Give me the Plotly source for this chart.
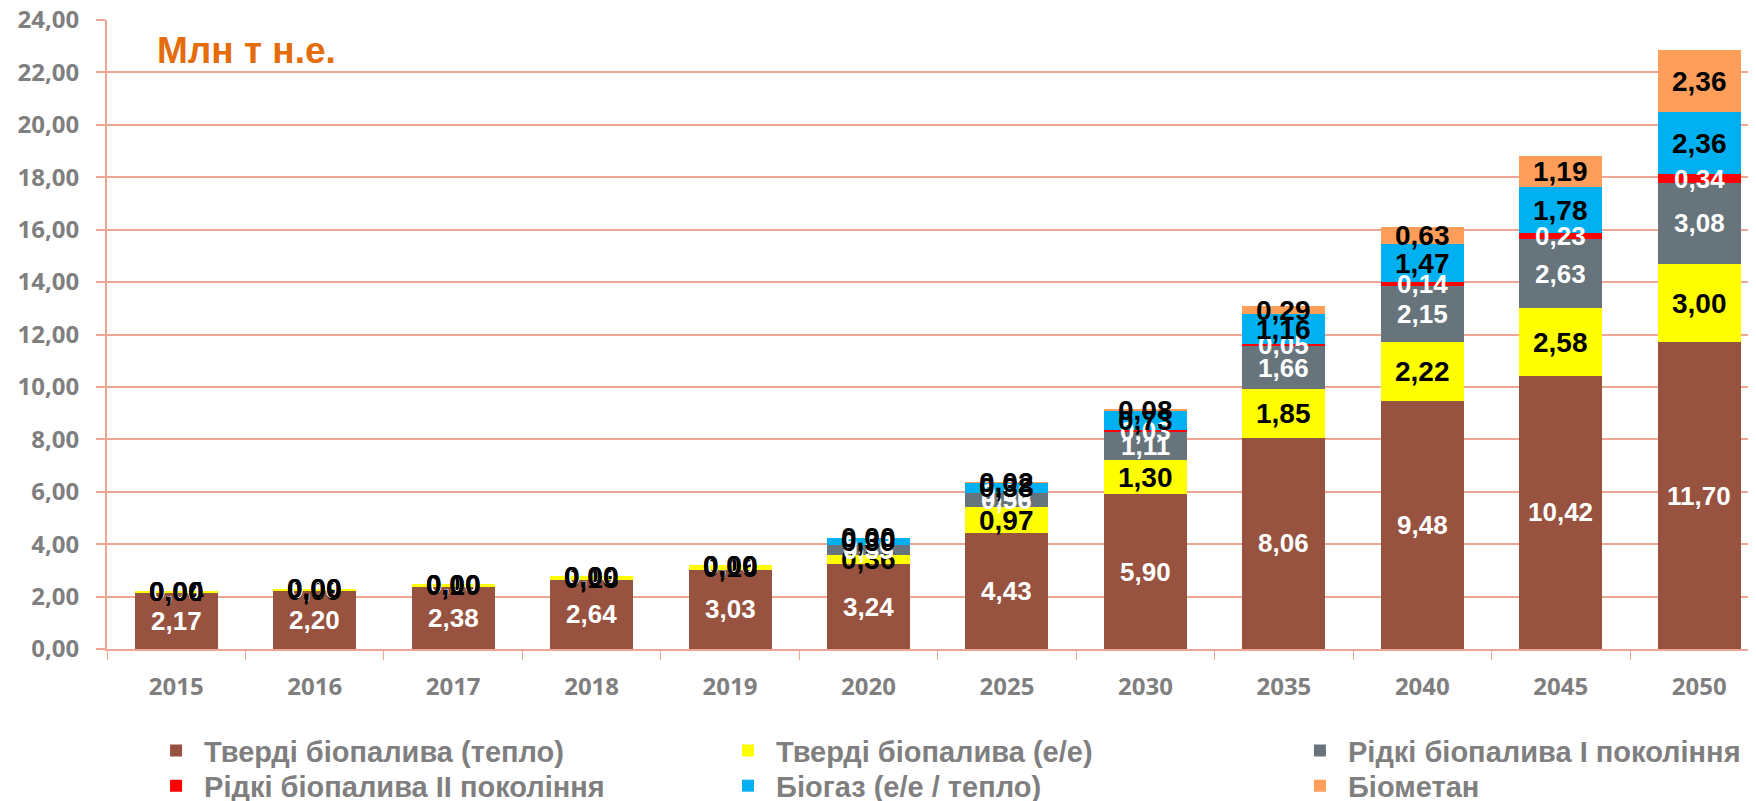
import plotly.graph_objects as go

years = ['2015', '2016', '2017', '2018', '2019', '2020', '2025', '2030', '2035', '2040', '2045', '2050']
solid_heat = [2.17, 2.20, 2.38, 2.64, 3.03, 3.24, 4.43, 5.90, 8.06, 9.48, 10.42, 11.70]
solid_el = [0.04, 0.09, 0.10, 0.13, 0.16, 0.36, 0.97, 1.30, 1.85, 2.22, 2.58, 3.00]
liquid_1 = [0.00, 0.00, 0.00, 0.00, 0.00, 0.35, 0.56, 1.11, 1.66, 2.15, 2.63, 3.08]
liquid_2 = [0.00, 0.00, 0.00, 0.00, 0.00, 0.00, 0.00, 0.03, 0.05, 0.14, 0.23, 0.34]
biogas = [0.00, 0.00, 0.00, 0.00, 0.00, 0.30, 0.38, 0.73, 1.16, 1.47, 1.78, 2.36]
biomethane = [0.00, 0.00, 0.00, 0.00, 0.00, 0.00, 0.02, 0.08, 0.29, 0.63, 1.19, 2.36]

series_names = ['Тверді біопалива (тепло)', 'Тверді біопалива (е/е)', 'Рідкі біопалива I покоління',
                'Рідкі біопалива II покоління', 'Біогаз (е/е / тепло)', 'Біометан']
series_values = [solid_heat, solid_el, liquid_1, liquid_2, biogas, biomethane]
series_colors = ['#97533F', '#FFFF00', '#68747C', '#FF0000', '#00B0F0', '#FF9E5A']
label_colors = ['white', 'black', 'white', 'white', 'black', 'black']
label_sizes = [26, 28, 26, 26, 28, 28]

GRID = '#EFA593'
GREY = '#7F7F7F'
W, H = 1748, 793  # page body adds an 8px offset inside the 1756x801 window

# legend slots (3 columns x 2 rows), positions in container fractions
legend_x = [0.0847, 0.4119, 0.7391, 0.0847, 0.4119, 0.7391]
legend_y = [0.0955, 0.0955, 0.0955, 0.0513, 0.0513, 0.0513]

fig = go.Figure()
annotations = []
base = [0.0] * len(years)
legend_layouts = {}
for k, (name, vals, col, lcol, lsz) in enumerate(zip(series_names, series_values, series_colors,
                                                      label_colors, label_sizes)):
    lg = 'legend' if k == 0 else f'legend{k + 1}'
    fig.add_trace(go.Bar(x=years, y=vals, name='\u00a0' + name, legend=lg,
                         marker=dict(color=col, line=dict(width=0))))
    legend_layouts[lg] = dict(
        orientation='v', xref='container', yref='container',
        x=legend_x[k], xanchor='left', y=legend_y[k], yanchor='top',
        font=dict(family='Liberation Sans, Arial', size=29, color=GREY, weight='bold'),
        itemsizing='constant', bgcolor='rgba(0,0,0,0)')
    for i, v in enumerate(vals):
        annotations.append(dict(
            x=i, y=base[i] + v / 2, xref='x', yref='y', showarrow=False,
            text='<b>' + f'{v:.2f}'.replace('.', ',') + '</b>',
            font=dict(family='Liberation Sans, Arial', size=lsz, color=lcol),
            xanchor='center', yanchor='middle'))
        base[i] += v

annotations.append(dict(
    x=0.029, y=0.952, xref='paper', yref='paper', showarrow=False,
    text='<b>Млн т н.е.</b>', xanchor='left', yanchor='middle',
    font=dict(family='Liberation Sans, Arial', size=37, color='#E46C0A')))

fig.update_layout(
    barmode='stack', bargap=0.4,
    width=W, height=H,
    margin=dict(l=99, r=0, t=12, b=152, autoexpand=False),
    paper_bgcolor='white', plot_bgcolor='white',
    separators=',.',
    annotations=annotations,
    showlegend=True,
    **legend_layouts,
)
fig.update_xaxes(
    type='category', range=[-0.5, 11.41],
    showline=True, linecolor=GRID, linewidth=2,
    ticks='outside', tickson='boundaries', ticklen=9, tickcolor=GRID, tickwidth=1,
    showgrid=False, tickangle=0, automargin=False,
    tickfont=dict(family='Open Sans, Liberation Sans', size=24, color=GREY, weight='bold'),
    ticklabelstandoff=15,
)
fig.update_yaxes(
    range=[0, 24], dtick=2, tickformat='.2f',
    showline=True, linecolor=GRID, linewidth=2,
    showgrid=True, gridcolor=GRID, gridwidth=2,
    ticks='outside', ticklen=9, tickcolor=GRID, tickwidth=2, automargin=False,
    ticklabeloverflow='allow',
    tickfont=dict(family='Open Sans, Liberation Sans', size=24, color=GREY, weight='bold'),
    ticklabelstandoff=12, zeroline=False,
)

fig.write_html('out.html')
